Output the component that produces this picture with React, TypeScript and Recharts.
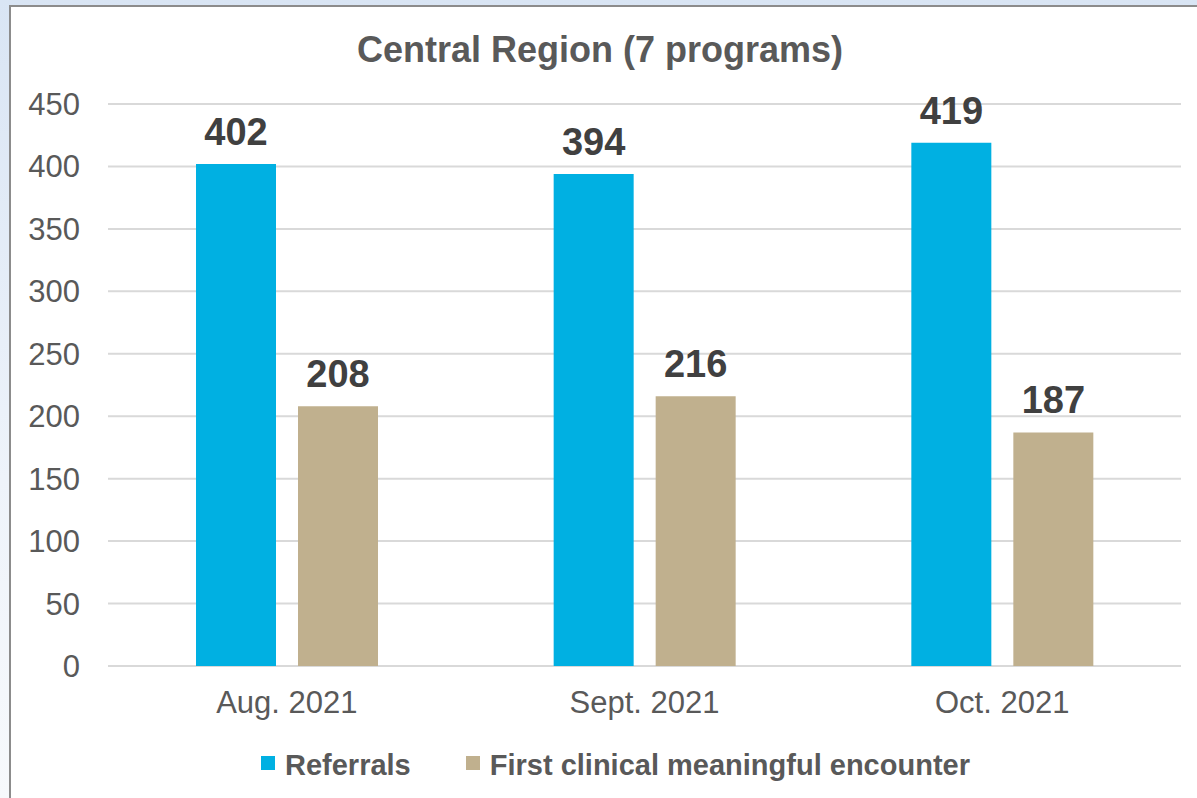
import React from "react";
import { BarChart, Bar, XAxis, YAxis, CartesianGrid, LabelList, Legend } from "recharts";

const months = ["Aug. 2021", "Sept. 2021", "Oct. 2021"];
const referrals = [402, 394, 419];
const encounters = [208, 216, 187];
const yTicks = [0, 50, 100, 150, 200, 250, 300, 350, 400, 450];

const CYAN = "#00B0E2";
const TAN = "#C0B08E";
const FONT = "'Liberation Sans', Arial, sans-serif";

const data = months.map((m, i) => ({ month: m, referrals: referrals[i], encounters: encounters[i] }));

const legendItems = [
  { name: "Referrals", color: CYAN },
  { name: "First clinical meaningful encounter", color: TAN },
];

function LegendContent() {
  return (
    <div
      style={{
        display: "flex",
        alignItems: "center",
        height: 40,
        lineHeight: "40px",
        paddingLeft: 261,
        fontFamily: FONT,
        fontSize: 29,
        fontWeight: "bold",
        color: "#595959",
      }}
    >
      {legendItems.map((it, i) => (
        <div key={it.name} style={{ display: "flex", alignItems: "center", marginRight: i === 0 ? 55 : 0 }}>
          <span
            style={{
              display: "inline-block",
              width: 14,
              height: 14,
              background: it.color,
              marginRight: 10,
              position: "relative",
              top: -2,
            }}
          />
          <span>{it.name}</span>
        </div>
      ))}
    </div>
  );
}

export default function App() {
  return (
    <div
      style={{
        position: "fixed",
        left: 0,
        top: 0,
        width: 1197,
        height: 798,
        background: "linear-gradient(180deg, #d9e5f4 0%, #eef3fa 60%, #f7f9fc 100%)",
        overflow: "hidden",
        fontFamily: FONT,
      }}
    >
      <div
        style={{
          position: "absolute",
          left: 9,
          top: 5,
          width: 1200,
          height: 800,
          background: "#fff",
          borderLeft: "2px solid #8c8c8c",
          borderTop: "2px solid #8c8c8c",
        }}
      />
      <div
        style={{
          position: "absolute",
          left: 0,
          top: 31,
          width: 1200,
          textAlign: "center",
          fontSize: 36,
          lineHeight: "37px",
          fontWeight: "bold",
          color: "#595959",
        }}
      >
        Central Region (7 programs)
      </div>
      <div style={{ position: "absolute", left: 0, top: 0 }}>
        <BarChart
          width={1197}
          height={798}
          data={data}
          margin={{ top: 104, right: 16, left: 0, bottom: 13 }}
          barSize={80}
          barGap={22}
        >
          <CartesianGrid horizontal vertical={false} stroke="#d9d9d9" strokeWidth={2} />
          <XAxis
            dataKey="month"
            axisLine={false}
            tickLine={false}
            tickSize={0}
            tickMargin={25}
            height={79}
            tick={{ fill: "#595959", fontSize: 31, fontFamily: FONT }}
          />
          <YAxis
            domain={[0, 450]}
            ticks={yTicks}
            interval={0}
            axisLine={false}
            tickLine={false}
            tickSize={0}
            tickMargin={28}
            width={108}
            tick={{ fill: "#595959", fontSize: 31, fontFamily: FONT }}
          />
          <Legend
            verticalAlign="bottom"
            content={<LegendContent />}
            wrapperStyle={{ left: 0, width: 1197, bottom: 13, height: 40 }}
          />
          <Bar dataKey="referrals" name="Referrals" fill={CYAN} isAnimationActive={false}>
            <LabelList
              dataKey="referrals"
              position="top"
              offset={19}
              fill="#404040"
              fontSize={38}
              fontWeight="bold"
              fontFamily={FONT}
            />
          </Bar>
          <Bar dataKey="encounters" name="First clinical meaningful encounter" fill={TAN} isAnimationActive={false}>
            <LabelList
              dataKey="encounters"
              position="top"
              offset={19}
              fill="#404040"
              fontSize={38}
              fontWeight="bold"
              fontFamily={FONT}
            />
          </Bar>
        </BarChart>
      </div>
    </div>
  );
}
